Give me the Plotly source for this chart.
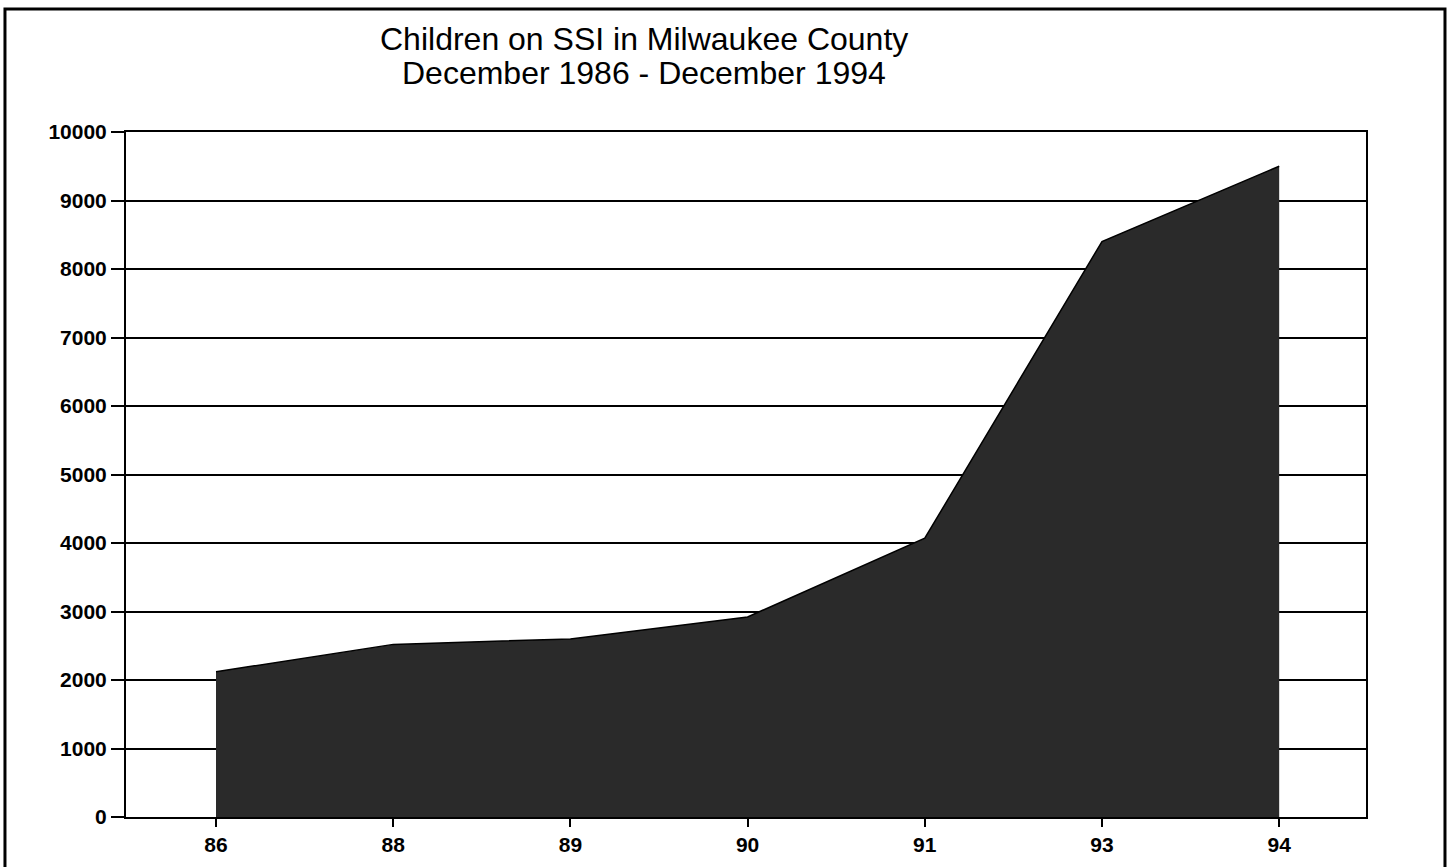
import plotly.graph_objects as go

years = ["86", "88", "89", "90", "91", "93", "94"]
children = [2120, 2520, 2600, 2920, 4070, 8400, 9500]
y_ticks = [0, 1000, 2000, 3000, 4000, 5000, 6000, 7000, 8000, 9000, 10000]
title_lines = ["Children on SSI in Milwaukee County", "December 1986 - December 1994"]

xpos = list(range(len(years)))

fig = go.Figure()
fig.add_trace(go.Scatter(
    x=xpos, y=children, mode="lines", fill="tozeroy",
    fillcolor="#2a2a2a", line=dict(color="#000000", width=1.5),
    hoverinfo="x+y", showlegend=False,
))

title_font = dict(size=32, family="Liberation Sans, Arial, sans-serif", color="black")
tick_font = dict(size=21, weight="bold", color="black",
                 family="Liberation Sans, Arial, sans-serif")

fig.update_layout(
    width=1449, height=867,
    margin=dict(l=126, r=83, t=132, b=50),
    paper_bgcolor="white", plot_bgcolor="white",
    font=dict(family="Liberation Sans, Arial, sans-serif", color="black"),
    xaxis=dict(
        range=[-0.508, 6.49], tickvals=xpos, ticktext=years,
        showgrid=False, zeroline=False,
        showline=True, linecolor="black", linewidth=2, mirror=True,
        ticks="outside", ticklen=8, tickwidth=2, tickcolor="black",
        tickfont=tick_font,
    ),
    yaxis=dict(
        range=[0, 10000], tickvals=y_ticks, ticktext=[str(v) for v in y_ticks],
        showgrid=True, gridcolor="black", gridwidth=2,
        zeroline=False,
        showline=True, linecolor="black", linewidth=2, mirror=True,
        ticks="outside", ticklen=13, tickwidth=2, tickcolor="black",
        tickfont=tick_font,
    ),
    annotations=[
        dict(text=title_lines[0], xref="paper", yref="paper",
             x=0.4177, y=1.1358, xanchor="center", yanchor="middle",
             showarrow=False, font=title_font),
        dict(text=title_lines[1], xref="paper", yref="paper",
             x=0.4177, y=1.0861, xanchor="center", yanchor="middle",
             showarrow=False, font=title_font),
    ],
    shapes=[dict(
        type="rect", xref="paper", yref="paper",
        x0=-0.0976, x1=1.0637, y0=-0.08, y1=1.1796,
        line=dict(color="black", width=3), fillcolor="rgba(0,0,0,0)",
        layer="above",
    )],
)

fig.write_html(
    "out.html",
    config={"displayModeBar": False},
    post_script="document.body.style.margin='0';document.body.style.overflow='hidden';",
)
